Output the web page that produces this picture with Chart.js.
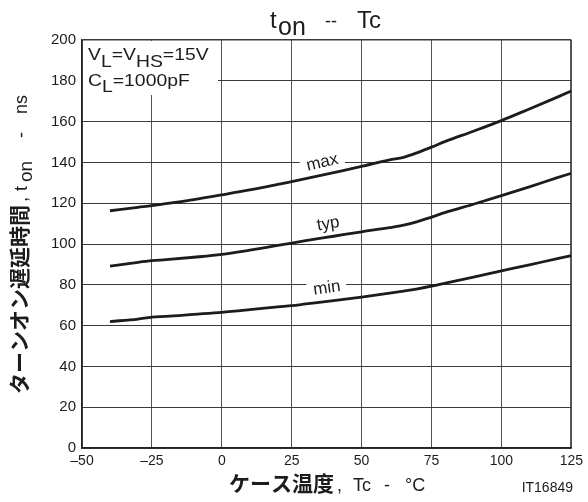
<!DOCTYPE html>
<html>
<head>
<meta charset="utf-8">
<script src="https://cdn.jsdelivr.net/npm/chart.js@4.4.1/dist/chart.umd.min.js"></script>
<style>
  html, body { margin: 0; padding: 0; background: #fff; }
  #wrap { width: 588px; height: 502px; }
</style>
</head>
<body>
<div id="wrap"><canvas id="c" width="588" height="502"></canvas></div>
<script>
// Case temperature (°C) at which each curve is sampled
const temps  = [-40, -30, -25, -20, -10, 0, 10, 20, 25, 30, 40, 50, 60, 65, 70, 75, 80, 90, 100, 110, 120, 125];
// Turn-on delay time t_on (ns)
const tonMax = [116.3, 118.0, 118.8, 119.8, 121.8, 124.1, 126.5, 129.2, 130.6, 132.0, 135.0, 138.0, 141.2, 142.5, 144.8, 147.5, 150.3, 155.3, 160.5, 166.2, 172.0, 175.0];
const tonTyp = [89.1, 91.0, 91.8, 92.3, 93.5, 94.9, 97.0, 99.3, 100.4, 101.6, 103.8, 106.0, 108.0, 109.2, 111.0, 113.2, 115.5, 119.5, 123.7, 128.0, 132.5, 134.7];
const tonMin = [62.0, 63.2, 64.2, 64.5, 65.5, 66.5, 67.8, 69.2, 69.8, 70.6, 72.2, 74.0, 75.9, 76.9, 78.0, 79.3, 80.8, 83.8, 86.8, 89.8, 92.8, 94.3];
// Axis ticks
const xTicks = [-50, -25, 0, 25, 50, 75, 100, 125];
const yTicks = [0, 20, 40, 60, 80, 100, 120, 140, 160, 180, 200];

const LATIN = "'Liberation Sans', Arial, Helvetica, sans-serif";
const CJK = "'Noto Sans CJK JP', 'Noto Sans CJK SC', sans-serif";
const INK = '#1c1c1c';

const toPoints = vals => temps.map((t, i) => ({ x: t, y: vals[i] }));

function runs(ctx, list) {
  for (const r of list) {
    ctx.font = r.f;
    ctx.fillText(r.t, r.x, r.y);
  }
}

// Condition box in the upper left corner of the plot
const conditionBox = {
  id: 'conditionBox',
  beforeDatasetsDraw(chart) {
    const { ctx, chartArea: a } = chart;
    ctx.save();
    ctx.fillStyle = '#fff';
    ctx.fillRect(a.left + 1, a.top + 1, 218 - a.left - 1, 95 - a.top - 1);
    ctx.restore();
  },
  afterDatasetsDraw(chart) {
    const { ctx } = chart;
    ctx.save();
    ctx.fillStyle = INK;
    ctx.textBaseline = 'alphabetic';
    ctx.translate(88, 0);
    ctx.scale(1.14, 1);
    ctx.font = '17px ' + LATIN;
    let x = 0;
    const seq = (t, dy) => { ctx.fillText(t, x, dy); x += ctx.measureText(t).width; };
    seq('V', 60); seq('L', 67); seq('=V', 60); seq('HS', 67); seq('=15V', 60);
    x = 0;
    seq('C', 86); seq('L', 92); seq('=1000pF', 86);
    ctx.restore();
  }
};

// max / typ / min labels sitting on the curves
const curveLabels = {
  id: 'curveLabels',
  afterDatasetsDraw(chart) {
    const { ctx, scales: { x, y } } = chart;
    const items = [
      { t: 'max', T: 35.9, v: 140.4, rot: -13, bg: true },
      { t: 'typ', T: 38.0, v: 110.3, rot: -9, bg: false },
      { t: 'min', T: 37.5, v: 78.8, rot: -8, bg: true }
    ];
    ctx.save();
    ctx.font = '17px ' + LATIN;
    ctx.textAlign = 'center';
    ctx.textBaseline = 'middle';
    for (const it of items) {
      const px = x.getPixelForValue(it.T), py = y.getPixelForValue(it.v);
      ctx.save();
      ctx.translate(px, py);
      ctx.rotate(it.rot * Math.PI / 180);
      if (it.bg) {
        const w = ctx.measureText(it.t).width + 12;
        ctx.fillStyle = '#fff';
        ctx.fillRect(-w / 2, -8, w, 16);
      }
      ctx.fillStyle = INK;
      ctx.fillText(it.t, 0, 1);
      ctx.restore();
    }
    ctx.restore();
  }
};

// Chart title and axis titles (mixed Japanese / subscripted text)
const titles = {
  id: 'titles',
  afterDraw(chart) {
    const { ctx } = chart;
    ctx.save();
    ctx.fillStyle = INK;
    ctx.textBaseline = 'alphabetic';
    ctx.textAlign = 'left';
    // title
    runs(ctx, [
      { t: 't', f: '24px ' + LATIN, x: 270, y: 28 },
      { t: 'on', f: '25px ' + LATIN, x: 278, y: 35 },
      { t: '--', f: '18px ' + LATIN, x: 325, y: 27 },
      { t: 'Tc', f: '24px ' + LATIN, x: 357, y: 28 }
    ]);
    // x axis title
    runs(ctx, [
      { t: 'ケース温度', f: 'bold 21px ' + CJK, x: 229, y: 491 },
      { t: ',', f: '18px ' + LATIN, x: 337, y: 491 },
      { t: 'Tc', f: '18px ' + LATIN, x: 353, y: 491 },
      { t: '-', f: '18px ' + LATIN, x: 384, y: 491 },
      { t: '°C', f: '18px ' + LATIN, x: 405, y: 491 }
    ]);
    // figure id
    ctx.textAlign = 'right';
    runs(ctx, [{ t: 'IT16849', f: '14px ' + LATIN, x: 573, y: 492 }]);
    ctx.textAlign = 'left';
    // y axis title, rotated
    ctx.rotate(-Math.PI / 2);
    runs(ctx, [
      { t: 'ターンオン遅延時間', f: 'bold 21px ' + CJK, x: -394, y: 27 },
      { t: ',', f: '18px ' + LATIN, x: -202, y: 27 },
      { t: 't', f: '18px ' + LATIN, x: -191, y: 27 },
      { t: 'on', f: '19px ' + LATIN, x: -182, y: 32 },
      { t: '-', f: '18px ' + LATIN, x: -138, y: 27 },
      { t: 'ns', f: '18px ' + LATIN, x: -114, y: 27 }
    ]);
    ctx.restore();
  }
};

const lineStyle = {
  borderColor: INK,
  borderWidth: 2.8,
  pointRadius: 0,
  fill: false,
  cubicInterpolationMode: 'monotone'
};

new Chart(document.getElementById('c'), {
  type: 'line',
  data: {
    datasets: [
      { label: 'max', data: toPoints(tonMax), ...lineStyle },
      { label: 'typ', data: toPoints(tonTyp), ...lineStyle },
      { label: 'min', data: toPoints(tonMin), ...lineStyle }
    ]
  },
  options: {
    responsive: false,
    devicePixelRatio: 1,
    animation: false,
    layout: { padding: { top: 40, right: 15, left: 0, bottom: 0 } },
    plugins: { legend: { display: false }, tooltip: { enabled: false }, title: { display: false } },
    scales: {
      x: {
        type: 'linear',
        min: xTicks[0],
        max: xTicks[xTicks.length - 1],
        afterFit: s => { s.height = 54; },
        afterBuildTicks: s => { s.ticks = xTicks.map(v => ({ value: v })); },
        ticks: {
          padding: 5,
          color: INK,
          font: { family: LATIN, size: 14 },
          maxRotation: 0,
          callback: v => (v < 0 ? '–' + Math.abs(v) : String(v))
        },
        grid: {
          color: '#555',
          lineWidth: c => (c.tick && c.tick.value === 125 ? 2 : 1),
          drawTicks: false
        },
        border: { color: '#222', width: 1.5 }
      },
      y: {
        type: 'linear',
        min: yTicks[0],
        max: yTicks[yTicks.length - 1],
        afterFit: s => { s.width = 82; },
        afterBuildTicks: s => { s.ticks = yTicks.map(v => ({ value: v })); },
        ticks: {
          padding: 6,
          color: INK,
          font: { family: LATIN, size: 15 }
        },
        grid: {
          color: '#3a3a3a',
          lineWidth: c => (c.tick && c.tick.value === 200 ? 1.5 : 1),
          drawTicks: false
        },
        border: { color: '#222', width: 1.5 }
      }
    }
  },
  plugins: [conditionBox, curveLabels, titles]
});
</script>
</body>
</html>
